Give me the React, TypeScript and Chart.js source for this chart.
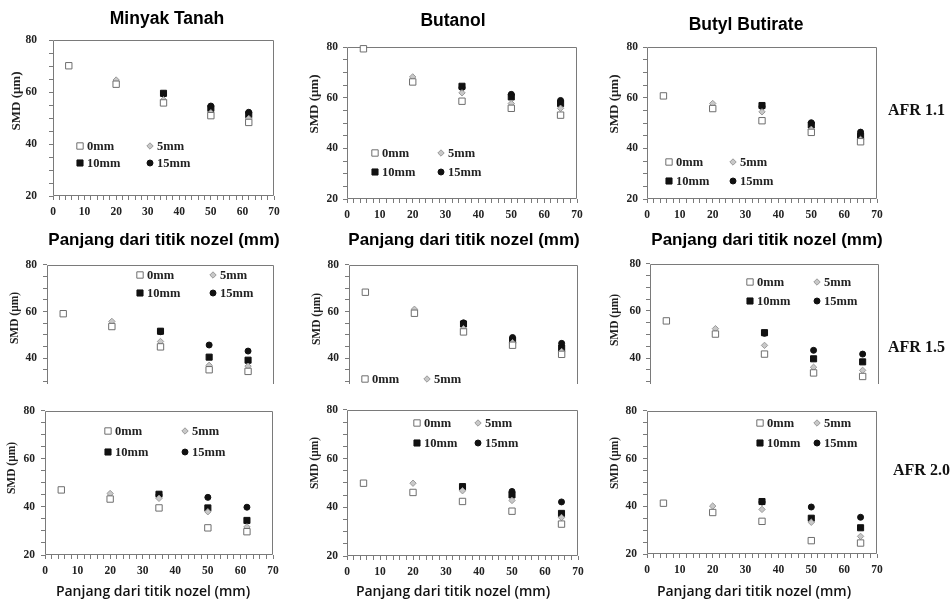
import React, { useEffect, useRef } from 'react';
import { Chart, registerables } from 'chart.js';

Chart.register(...registerables);

// ---------------- text ----------------
const FUEL_TITLES = ['Minyak Tanah', 'Butanol', 'Butyl Butirate'];
const AFR_LABELS = ['AFR 1.1', 'AFR 1.5', 'AFR 2.0'];
const SERIES_LABELS = ['0mm', '5mm', '10mm', '15mm'];
const X_TITLE = 'Panjang dari titik nozel (mm)';
const Y_TITLE = 'SMD (μm)';
const X_TICK_LABELS = [0, 10, 20, 30, 40, 50, 60, 70];
const Y_TICK_LABELS = [20, 40, 60, 80];
const X_MINOR_STEP = 2;
const Y_MINOR_STEP = 5;

// ---------------- data ----------------
const X_MINYAK = [5, 20, 35, 50, 62];
const X_BUTANOL = [5, 20, 35, 50, 65];
const X_BUTYL = [5, 20, 35, 50, 65];

// AFR 1.1
const MT11_0 = [70.1, 63.0, 55.8, 50.9, 48.3];
const MT11_5 = [null, 64.6, 57.0, 52.0, 49.8];
const MT11_10 = [null, null, 59.5, 53.7, 51.3];
const MT11_15 = [null, null, 59.2, 54.6, 52.2];
const BU11_0 = [79.3, 66.2, 58.6, 55.8, 53.1];
const BU11_5 = [null, 68.2, 61.9, 57.7, 55.8];
const BU11_10 = [null, null, 64.5, 60.3, 57.7];
const BU11_15 = [null, null, 64.0, 61.3, 58.9];
const BB11_0 = [60.7, 55.7, 50.9, 46.3, 42.6];
const BB11_5 = [null, 57.7, 54.4, 47.5, 43.5];
const BB11_10 = [null, null, 56.9, 49.2, 44.8];
const BB11_15 = [null, null, 56.5, 50.1, 46.4];
// AFR 1.5
const MT15_0 = [59.1, 53.6, 44.9, 35.1, 34.4];
const MT15_5 = [null, 55.8, 47.2, 37.0, 36.6];
const MT15_10 = [null, null, 51.6, 40.5, 39.2];
const MT15_15 = [null, null, 51.4, 45.7, 43.1];
const BU15_0 = [68.3, 59.3, 51.3, 45.6, 41.7];
const BU15_5 = [null, 61.0, 52.7, 46.7, 42.9];
const BU15_10 = [null, null, 54.7, 47.6, 44.4];
const BU15_15 = [null, null, 55.2, 48.9, 46.4];
const BB15_0 = [55.8, 50.2, 41.7, 33.7, 32.2];
const BB15_5 = [null, 52.5, 45.4, 36.1, 34.8];
const BB15_10 = [null, null, 50.8, 39.7, 38.4];
const BB15_15 = [null, null, 50.5, 43.3, 41.7];
// AFR 2.0
const MT20_0 = [47.1, 43.3, 39.6, 31.3, 29.7];
const MT20_5 = [null, 45.6, 43.6, 38.0, 31.7];
const MT20_10 = [null, null, 45.3, 39.6, 34.4];
const MT20_15 = [null, null, 45.0, 44.0, 39.9];
const BU20_0 = [49.9, 46.1, 42.4, 38.4, 33.1];
const BU20_5 = [null, 49.9, 46.8, 42.8, 35.8];
const BU20_10 = [null, null, 48.5, 45.1, 37.5];
const BU20_15 = [null, null, 48.2, 46.5, 42.2];
const BB20_0 = [41.3, 37.4, 33.7, 25.6, 24.6];
const BB20_5 = [null, 40.1, 38.7, 33.3, 27.4];
const BB20_10 = [null, null, 42.0, 35.0, 31.0];
const BB20_15 = [null, null, 41.8, 39.7, 35.4];

const PANELS = [
  { x: X_MINYAK, series: [MT11_0, MT11_5, MT11_10, MT11_15] },
  { x: X_BUTANOL, series: [BU11_0, BU11_5, BU11_10, BU11_15] },
  { x: X_BUTYL, series: [BB11_0, BB11_5, BB11_10, BB11_15] },
  { x: X_MINYAK, series: [MT15_0, MT15_5, MT15_10, MT15_15] },
  { x: X_BUTANOL, series: [BU15_0, BU15_5, BU15_10, BU15_15] },
  { x: X_BUTYL, series: [BB15_0, BB15_5, BB15_10, BB15_15] },
  { x: X_MINYAK, series: [MT20_0, MT20_5, MT20_10, MT20_15] },
  { x: X_BUTANOL, series: [BU20_0, BU20_5, BU20_10, BU20_15] },
  { x: X_BUTYL, series: [BB20_0, BB20_5, BB20_10, BB20_15] },
];

// ---------------- layout / style ----------------
const COL_LEFT = [0, 303, 603];
const ROW_TOP = [0, 252, 398];
const ROW_BOTTOM = [250, 402, 604];
const ROW_Y_MIN = [20, 29, 20];
const AREA = [
  [53, 40, 274, 196], [347, 47, 577, 199], [647, 47, 877, 199],
  [47, 263, 274, 393], [349, 264, 578, 393], [650, 263, 879, 393],
  [45, 405, 273, 555], [347, 405, 578, 556], [647, 405, 877, 554],
];
const Y_TITLE_POS = [
  [17, 101], [315, 104], [615, 104],
  [15, 318], [317, 319], [615, 320],
  [12, 468], [315, 463], [615, 463],
];
const X_TITLE_POS = [
  [164, 240], [464, 240], [767, 240],
  null, null, null,
  [153, 592], [453, 592], [754, 592],
];
const Y_TICK_PAD = [12, 5, 5, 6, 6, 5, 6, 5, 6];
const LEGEND_POS = [
  [80, 150, 146, 163], [375, 441, 153, 172], [669, 733, 162, 181],
  [140, 213, 275, 293], [365, 427, 379, 397], [750, 817, 282, 301],
  [108, 185, 431, 452], [417, 478, 423, 443], [760, 817, 423, 443],
];
const TITLE_POS = [[167, 19], [453, 21], [746, 25]];
const AFR_POS = [[888, 110], [888, 347], [893, 470]];

const SERIES_STYLE = [
  { pointStyle: 'rect', radius: 4.5, bg: '#ffffff', border: '#6e6e6e' },
  { pointStyle: 'rectRot', radius: 3.2, bg: '#c8c8c8', border: '#9a9a9a' },
  { pointStyle: 'rect', radius: 4.3, bg: '#111111', border: '#111111' },
  { pointStyle: 'circle', radius: 3, bg: '#111111', border: '#111111' },
];

const SERIF = '"Liberation Serif", "Times New Roman", serif';
const SANS = '"Liberation Sans", Arial, sans-serif';

function drawMarker(ctx: CanvasRenderingContext2D, st: any, x: number, y: number) {
  ctx.save();
  ctx.fillStyle = st.bg;
  ctx.strokeStyle = st.border;
  ctx.lineWidth = 1;
  ctx.beginPath();
  const r = st.radius;
  if (st.pointStyle === 'rect') {
    const s = r * Math.SQRT1_2;
    ctx.rect(x - s, y - s, 2 * s, 2 * s);
  } else if (st.pointStyle === 'rectRot') {
    ctx.moveTo(x - r, y);
    ctx.lineTo(x, y - r);
    ctx.lineTo(x + r, y);
    ctx.lineTo(x, y + r);
    ctx.closePath();
  } else {
    ctx.arc(x, y, r, 0, Math.PI * 2);
  }
  ctx.fill();
  ctx.stroke();
  ctx.restore();
}

function geom(i: number) {
  const r = Math.floor(i / 3);
  const c = i % 3;
  const [L, T, R, B] = AREA[i];
  const left = COL_LEFT[c];
  const top = ROW_TOP[r];
  const w = R + 12 - left;
  const h = ROW_BOTTOM[r] - top;
  return { r, c, L, T, R, B, left, top, w, h };
}

function buildConfig(i: number): any {
  const g = geom(i);
  const p = PANELS[i];
  const datasets = p.series.map((ys, k) => {
    const st = SERIES_STYLE[k];
    return {
      label: SERIES_LABELS[k],
      data: p.x.map((xv, j) => ({ x: xv, y: ys[j] })).filter((d) => d.y !== null),
      pointStyle: st.pointStyle,
      pointRadius: st.radius,
      backgroundColor: st.bg,
      borderColor: st.border,
      borderWidth: 1,
      showLine: false,
      clip: false,
    };
  });

  const yMin = ROW_Y_MIN[g.r];
  const yTitleSize = g.r === 0 ? 13 : 11.5;

  const frame = {
    id: 'frame',
    beforeDatasetsDraw(chart: any) {
      const { ctx, chartArea: a } = chart;
      ctx.save();
      ctx.strokeStyle = '#7a7a7a';
      ctx.lineWidth = 1;
      const l = Math.round(a.left) + 0.5;
      const rr = Math.round(a.right) - 0.5;
      const t = Math.round(a.top) + 0.5;
      const b = Math.round(a.bottom) - 0.5;
      ctx.beginPath();
      if (g.r === 1) {
        ctx.moveTo(l, a.bottom);
        ctx.lineTo(l, t);
        ctx.lineTo(rr, t);
        ctx.lineTo(rr, a.bottom);
      } else {
        ctx.rect(l, t, rr - l, b - t);
      }
      ctx.stroke();
      ctx.restore();
    },
  };

  const axisTitles = {
    id: 'axisTitles',
    afterDraw(chart: any) {
      const { ctx } = chart;
      ctx.save();
      // y title
      const [yx, yy] = Y_TITLE_POS[i];
      ctx.save();
      ctx.translate(yx - g.left, yy - g.top);
      ctx.rotate(-Math.PI / 2);
      ctx.font = `bold ${yTitleSize}px ${SERIF}`;
      ctx.fillStyle = '#222';
      ctx.textAlign = 'center';
      ctx.textBaseline = 'middle';
      ctx.fillText(Y_TITLE, 0, 0);
      ctx.restore();
      // x title
      const xp = X_TITLE_POS[i];
      if (xp) {
        ctx.font = g.r === 0 ? `bold 17px ${SANS}` : `600 14px "Open Sans", sans-serif`;
        ctx.fillStyle = g.r === 0 ? '#000' : '#111';
        ctx.textAlign = 'center';
        ctx.textBaseline = 'middle';
        ctx.fillText(X_TITLE, xp[0] - g.left, xp[1] - g.top);
      }
      ctx.restore();
    },
  };

  const legendIn = {
    id: 'legendIn',
    afterDraw(chart: any) {
      const { ctx, chartArea: a } = chart;
      const [x1, x2, y1, y2] = LEGEND_POS[i];
      const xs = [x1, x2, x1, x2];
      const ys = [y1, y1, y2, y2];
      ctx.save();
      ctx.beginPath();
      ctx.rect(a.left, a.top, a.right - a.left, a.bottom - a.top);
      ctx.clip();
      ctx.font = `bold 12.5px ${SERIF}`;
      ctx.fillStyle = '#222';
      ctx.textBaseline = 'middle';
      ctx.textAlign = 'left';
      SERIES_LABELS.forEach((lab, k) => {
        const mx = xs[k] - g.left;
        const my = ys[k] - g.top;
        drawMarker(ctx, SERIES_STYLE[k], mx, my);
        ctx.fillText(lab, mx + 7, my + 0.5);
      });
      ctx.restore();
    },
  };

  return {
    type: 'scatter',
    data: { datasets },
    plugins: [frame, axisTitles, legendIn],
    options: {
      responsive: false,
      animation: false,
      events: [],
      layout: {
        padding: {
          left: 0,
          right: g.left + g.w - g.R,
          top: g.T - g.top,
          bottom: g.r === 1 ? ROW_BOTTOM[1] - g.B : 0,
        },
      },
      plugins: { legend: { display: false }, tooltip: { enabled: false }, title: { display: false } },
      scales: {
        x: {
          type: 'linear',
          display: g.r !== 1,
          min: X_TICK_LABELS[0],
          max: X_TICK_LABELS[X_TICK_LABELS.length - 1],
          afterBuildTicks: (s: any) => {
            const t = [];
            for (let v = X_TICK_LABELS[0]; v <= X_TICK_LABELS[X_TICK_LABELS.length - 1]; v += X_MINOR_STEP) t.push({ value: v });
            s.ticks = t;
          },
          afterFit: (s: any) => {
            s.height = ROW_BOTTOM[g.r] - g.B;
          },
          border: { display: false },
          grid: { display: true, drawOnChartArea: false, drawTicks: true, tickLength: 4, tickColor: '#7a7a7a', tickWidth: 1 },
          ticks: {
            autoSkip: false,
            maxRotation: 0,
            padding: 5,
            color: '#222',
            font: { family: SERIF, size: 11.5, weight: 'bold' },
            callback: (v: any) => (X_TICK_LABELS.includes(v) ? String(v) : ''),
          },
          title: { display: false },
        },
        y: {
          type: 'linear',
          min: yMin,
          max: Y_TICK_LABELS[Y_TICK_LABELS.length - 1],
          afterBuildTicks: (s: any) => {
            const t = [];
            const start = Math.ceil(yMin / Y_MINOR_STEP) * Y_MINOR_STEP;
            for (let v = start; v <= Y_TICK_LABELS[Y_TICK_LABELS.length - 1]; v += Y_MINOR_STEP) t.push({ value: v });
            s.ticks = t;
          },
          afterFit: (s: any) => {
            s.width = g.L - g.left;
          },
          border: { display: false },
          grid: { display: true, drawOnChartArea: false, drawTicks: true, tickLength: 4, tickColor: '#7a7a7a', tickWidth: 1 },
          ticks: {
            autoSkip: false,
            padding: Y_TICK_PAD[i],
            color: '#222',
            font: { family: SERIF, size: 11.5, weight: 'bold' },
            callback: (v: any) => (Y_TICK_LABELS.includes(v) ? String(v) : ''),
          },
          title: { display: false },
        },
      },
    },
  };
}

export default function App() {
  const refs = useRef<(HTMLCanvasElement | null)[]>([]);

  useEffect(() => {
    const charts = PANELS.map((_, i) => new Chart(refs.current[i] as HTMLCanvasElement, buildConfig(i)));
    return () => {
      charts.forEach((c) => c.destroy());
    };
  }, []);

  return (
    <div style={{ position: 'absolute', left: 0, top: 0, width: 952, height: 604, background: '#fff', overflow: 'hidden' }}>
      {PANELS.map((_, i) => {
        const g = geom(i);
        return (
          <canvas
            key={i}
            ref={(el) => {
              refs.current[i] = el;
            }}
            width={g.w}
            height={g.h}
            style={{ position: 'absolute', left: g.left, top: g.top, width: g.w, height: g.h }}
          />
        );
      })}
      {FUEL_TITLES.map((t, k) => (
        <div
          key={'t' + k}
          style={{
            position: 'absolute',
            left: TITLE_POS[k][0],
            top: TITLE_POS[k][1],
            transform: 'translate(-50%, -50%)',
            font: `bold 17.5px ${SANS}`,
            color: '#000',
            whiteSpace: 'nowrap',
            lineHeight: 1,
          }}
        >
          {t}
        </div>
      ))}
      {AFR_LABELS.map((t, k) => (
        <div
          key={'a' + k}
          style={{
            position: 'absolute',
            left: AFR_POS[k][0],
            top: AFR_POS[k][1],
            transform: 'translateY(-50%)',
            font: `bold 16px ${SERIF}`,
            color: '#111',
            whiteSpace: 'nowrap',
            lineHeight: 1,
          }}
        >
          {t}
        </div>
      ))}
    </div>
  );
}
